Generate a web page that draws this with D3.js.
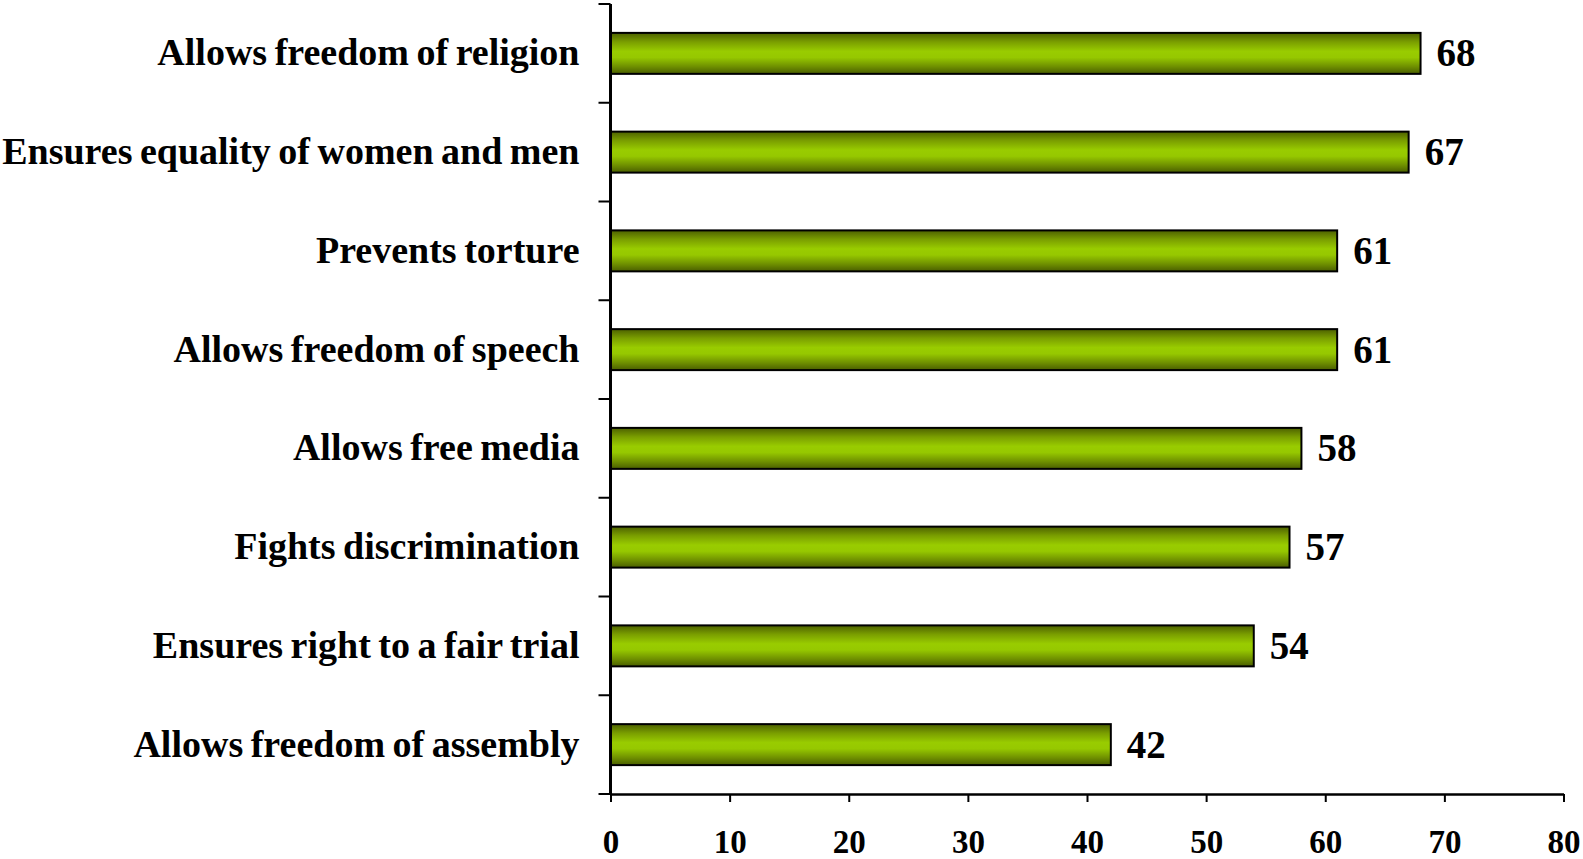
<!DOCTYPE html>
<html>
<head>
<meta charset="utf-8">
<script src="https://cdn.jsdelivr.net/npm/d3@7"></script>
<style>
  body { margin: 0; background: #fff; }
  svg { display: block; }
  text { font-family: "Liberation Serif", "Times New Roman", serif; font-weight: bold; fill: #000; }
</style>
</head>
<body>
<div class="chart"></div>
<script>
const categories = [
  'Allows freedom of religion',
  'Ensures equality of women and men',
  'Prevents torture',
  'Allows freedom of speech',
  'Allows free media',
  'Fights discrimination',
  'Ensures right to a fair trial',
  'Allows freedom of assembly',
];
const values = [68, 67, 61, 61, 58, 57, 54, 42];
const xTicks = [0, 10, 20, 30, 40, 50, 60, 70, 80];

const data = categories.map((c, i) => ({ category: c, value: values[i] }));

const width = 1583;
const height = 859;
const margin = { top: 4, right: 20, bottom: 65, left: 610.5 };

const svg = d3
  .select('.chart')
  .append('svg')
  .attr('width', width)
  .attr('height', height);

const x = d3
  .scaleLinear()
  .domain([0, 80])
  .range([margin.left, 1563.5]);

const y = d3
  .scaleBand()
  .domain(categories)
  .range([margin.top, height - margin.bottom])
  .paddingInner(0.585)
  .paddingOuter(0.2925);

// gradient for the bars
const grad = svg
  .append('defs')
  .append('linearGradient')
  .attr('id', 'barGrad')
  .attr('x1', 0)
  .attr('y1', 0)
  .attr('x2', 0)
  .attr('y2', 1);
grad.append('stop').attr('offset', '0%').attr('stop-color', '#4d6100');
grad.append('stop').attr('offset', '22%').attr('stop-color', '#7a9e00');
grad.append('stop').attr('offset', '45%').attr('stop-color', '#99cc00');
grad.append('stop').attr('offset', '60%').attr('stop-color', '#96c800');
grad.append('stop').attr('offset', '82%').attr('stop-color', '#6f9000');
grad.append('stop').attr('offset', '100%').attr('stop-color', '#4a5e00');

svg
  .selectAll('rect.bar')
  .data(data)
  .enter()
  .append('rect')
  .attr('class', 'bar')
  .attr('x', x(0))
  .attr('y', (d) => y(d.category))
  .attr('width', (d) => x(d.value) - x(0))
  .attr('height', y.bandwidth())
  .attr('fill', 'url(#barGrad)')
  .attr('stroke', '#000')
  .attr('stroke-width', 2);

// value labels
svg
  .selectAll('text.value')
  .data(data)
  .enter()
  .append('text')
  .attr('class', 'value')
  .attr('x', (d) => x(d.value) + 16)
  .attr('y', (d) => y(d.category) + y.bandwidth() / 2 + 13)
  .attr('font-size', 39)
  .text((d) => d.value);

// category labels
svg
  .selectAll('text.cat')
  .data(data)
  .enter()
  .append('text')
  .attr('class', 'cat')
  .attr('x', margin.left - 31)
  .attr('y', (d) => y(d.category) + y.bandwidth() / 2 + 12)
  .attr('text-anchor', 'end')
  .attr('font-size', 38)
  .attr('word-spacing', -2)
  .text((d) => d.category);

// y axis line and boundary ticks
const yAxis = svg.append('g');
const bounds = d3.range(categories.length + 1).map(
  (i) => y.range()[0] + i * y.step()
);
yAxis
  .append('line')
  .attr('x1', x(0))
  .attr('x2', x(0))
  .attr('y1', y.range()[0])
  .attr('y2', y.range()[1])
  .attr('stroke', '#000')
  .attr('stroke-width', 3);
yAxis
  .selectAll('line.tick')
  .data(bounds)
  .enter()
  .append('line')
  .attr('class', 'tick')
  .attr('x1', x(0) - 12)
  .attr('x2', x(0))
  .attr('y1', (d) => d)
  .attr('y2', (d) => d)
  .attr('stroke', '#000')
  .attr('stroke-width', 2);

// x axis
const xAxis = svg
  .append('g')
  .attr('transform', `translate(0,${y.range()[1]})`)
  .call(d3.axisBottom(x).tickValues(xTicks).tickSize(8).tickSizeOuter(0));
xAxis.select('.domain').attr('stroke-width', 2.5);
xAxis.selectAll('.tick line').attr('stroke-width', 2);
xAxis
  .selectAll('.tick text')
  .attr('font-size', 33)
  .attr('font-family', '"Liberation Serif", serif')
  .attr('font-weight', 'bold')
  .attr('y', 59)
  .attr('dy', 0);
</script>
</body>
</html>
